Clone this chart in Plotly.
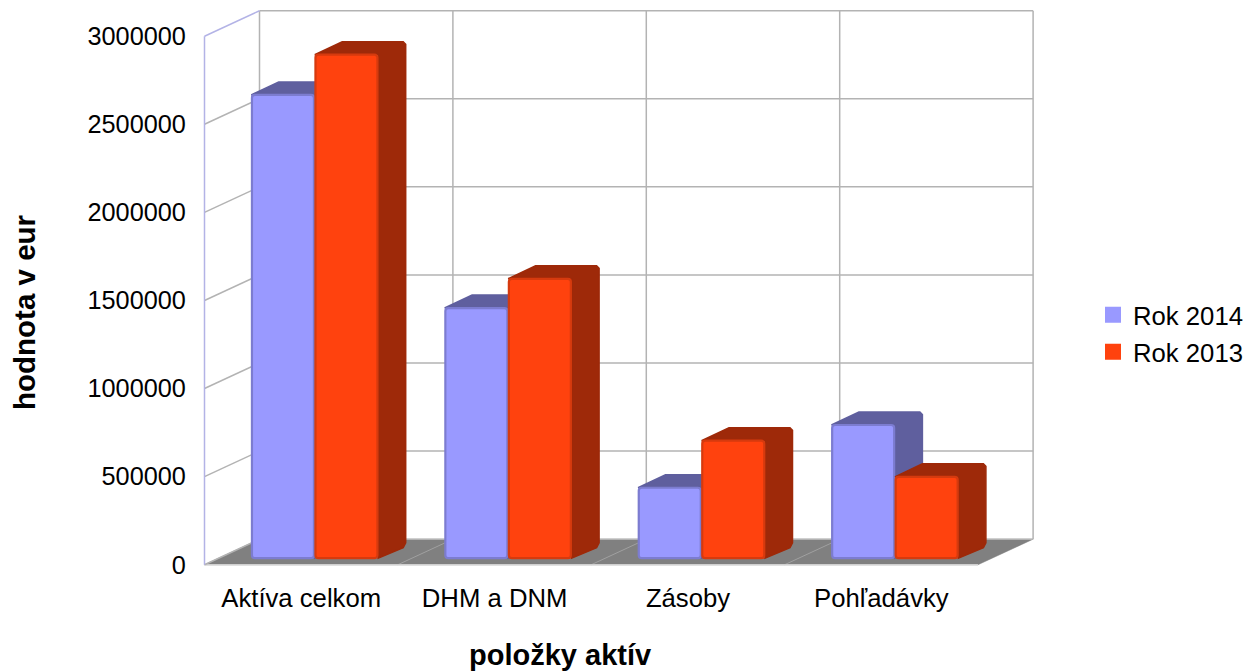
import plotly.graph_objects as go

categories = ["Aktíva celkom", "DHM a DNM", "Zásoby", "Pohľadávky"]
rok_2014 = [2630000, 1420000, 400000, 756000]
rok_2013 = [2858000, 1586000, 667000, 462000]
y_ticks = [0, 500000, 1000000, 1500000, 2000000, 2500000, 3000000]

W, H = 1246, 672
L, R, T, B = 200, 1038, 8, 568      # plot area, px
X0, Y0 = 204.5, 564.7               # front-left origin, px
PX_X = 193.4
PX_Y = 528.5 / 3000000
FONT = "Liberation Sans"

def ux(px): return px / PX_X
def uy(px): return px / PX_Y

WALL_DX, WALL_DY = ux(55), uy(25.5)
BAR_DX, BAR_DY = ux(27.5), uy(13)
FRONT_DX, BASE = ux(13.5), uy(6.5)
BAR_W = ux(63.5)
GRID = "#b3b3b3"
WALL_BLUE = "#b3b3e6"
N = len(categories)

fig = go.Figure()

def line(xs, ys, color, width=1.5):
    fig.add_trace(go.Scatter(x=xs, y=ys, mode="lines", line=dict(color=color, width=width),
                             showlegend=False, hoverinfo="skip", cliponaxis=False))

# floor
fig.add_trace(go.Scatter(x=[0, WALL_DX, N + WALL_DX, N, 0], y=[0, WALL_DY, WALL_DY, 0, 0],
                         mode="lines", fill="toself", fillcolor="#808080",
                         line=dict(color="#808080", width=0.5), showlegend=False, hoverinfo="skip"))
for i in range(1, N):
    line([i, i + WALL_DX], [0, WALL_DY], "#a0a0a0", 1)
line([0, N], [0, 0], "#d0d0d0", 1.5)

# back wall and left wall grid
for v in y_ticks:
    line([WALL_DX, N + WALL_DX], [v + WALL_DY, v + WALL_DY], GRID)
    if v < y_ticks[-1]:
        line([0, WALL_DX], [v, v + WALL_DY], GRID)
for i in range(N + 1):
    line([i + WALL_DX, i + WALL_DX], [WALL_DY, y_ticks[-1] + WALL_DY], GRID)
line([0, WALL_DX], [y_ticks[-1], y_ticks[-1] + WALL_DY], WALL_BLUE)
line([0, 0], [0, y_ticks[-1]], WALL_BLUE)


def box_sides(values, left_edge, color, xa, ya):
    cx, cy = ux(2.5), uy(2.5)      # softened outer corners
    xs, ys = [], []
    for i, v in enumerate(values):
        xl = i + 0.5 + FRONT_DX + left_edge
        xr = xl + BAR_W
        top = BASE + v
        xe = xr + BAR_DX
        xs += [xl, xl + BAR_DX, xe - cx, xe, xe, xe - cx, xr, xr, xl, None]
        ys += [top, top + BAR_DY, top + BAR_DY, top + BAR_DY - cy, BASE + BAR_DY + cy,
               BASE + BAR_DY - cy, BASE, top, top, None]
    fig.add_trace(go.Scatter(x=xs, y=ys, mode="lines", fill="toself", fillcolor=color,
                             line=dict(color=color, width=1.5), xaxis=xa, yaxis=ya,
                             showlegend=False, hoverinfo="skip"))


def box_front(values, left_edge, color, edge, name, xa, ya):
    fig.add_trace(go.Bar(x=[i + 0.5 + FRONT_DX + left_edge + BAR_W / 2 for i in range(N)],
                         y=values, base=[BASE] * N, width=BAR_W - ux(1.5), name=name,
                         marker=dict(color=color, line=dict(color=edge, width=2.2)),
                         showlegend=False, xaxis=xa, yaxis=ya))


box_sides(rok_2014, -BAR_W, "#5f5f9e", "x", "y")
box_front(rok_2014, -BAR_W, "#9999ff", "#7c7cd0", "Rok 2014", "x2", "y2")
box_sides(rok_2013, 0, "#9e2909", "x2", "y2")
box_front(rok_2013, 0, "#ff420e", "#d63a0e", "Rok 2013", "x3", "y3")

# legend entries
for name, color, leg in [("Rok 2014", "#9999ff", "legend"), ("Rok 2013", "#ff420e", "legend2")]:
    fig.add_trace(go.Scatter(x=[None], y=[None], mode="markers", name=name, legend=leg,
                             marker=dict(symbol="square", size=16, color=color)))

x_range = [ux(L - X0), ux(R - X0)]
y_range = [uy(Y0 - B), uy(Y0 - T)]
hidden = dict(visible=False, fixedrange=True)


def px_x(p): return (p - L) / (R - L)
def px_y(p): return (B - p) / (B - T)


leg_common = dict(xanchor="left", yanchor="middle", bgcolor="rgba(0,0,0,0)",
                  xref="container", yref="container",
                  font=dict(family=FONT, size=25.7, color="#000000"), itemclick=False, itemdoubleclick=False,
                  entrywidth=100, entrywidthmode="pixels")

fig.update_layout(
    width=W, height=H, autosize=False,
    margin=dict(l=L, r=W - R, t=T, b=H - B, pad=0),
    plot_bgcolor="#ffffff", paper_bgcolor="#ffffff",
    font=dict(family=FONT, color="#000000"),
    barmode="overlay", barcornerradius=3, showlegend=True,
    xaxis=dict(range=x_range, tickmode="array", tickvals=[i + 0.5 for i in range(N)], ticktext=categories,
               showgrid=False, zeroline=False, showline=False, ticks="outside", ticklen=7,
               tickcolor="rgba(0,0,0,0)", tickfont=dict(size=25.7), fixedrange=True),
    yaxis=dict(range=y_range, tickmode="array", tickvals=y_ticks, ticktext=[str(v) for v in y_ticks],
               showgrid=False, zeroline=False, showline=False, ticks="outside", ticklen=8,
               tickcolor="rgba(0,0,0,0)", tickfont=dict(size=25.3), fixedrange=True),
    xaxis2=dict(overlaying="x", range=x_range, **hidden),
    yaxis2=dict(overlaying="y", range=y_range, **hidden),
    xaxis3=dict(overlaying="x", range=x_range, **hidden),
    yaxis3=dict(overlaying="y", range=y_range, **hidden),
    legend=dict(x=1093 / W, y=1 - 315 / H, **leg_common),
    legend2=dict(x=1093 / W, y=1 - 352 / H, **leg_common),
    annotations=[
        dict(text="<b>položky aktív</b>", xref="paper", yref="paper", x=px_x(560), y=px_y(655),
             showarrow=False, xanchor="center", yanchor="middle", font=dict(size=29)),
        dict(text="<b>hodnota v eur</b>", xref="paper", yref="paper", x=px_x(24), y=px_y(312),
             showarrow=False, xanchor="center", yanchor="middle", textangle=-90, font=dict(size=29.5)),
    ],
)

fig.write_html("out.html", config=dict(displayModeBar=False),
               post_script="document.body.style.margin='0';")
